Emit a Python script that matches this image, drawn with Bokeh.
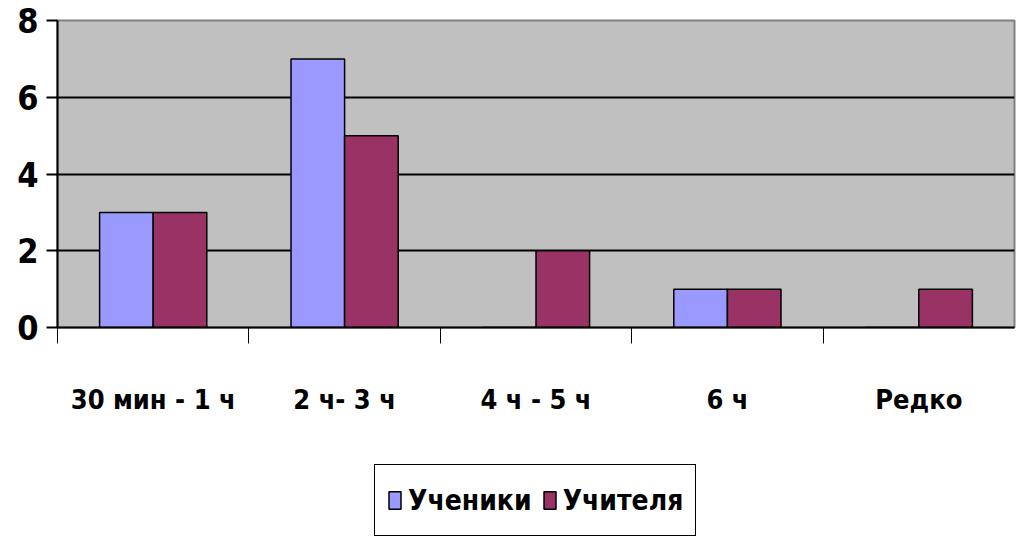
from bokeh.plotting import figure
from bokeh.layouts import column
from bokeh.models import Range1d, FixedTicker, ColumnDataSource, Legend, LegendItem
from bokeh.transform import dodge
from bokeh.embed import file_html
from bokeh.resources import INLINE

categories = ["30 мин - 1 ч", "2 ч- 3 ч", "4 ч - 5 ч", "6 ч", "Редко"]
students = [3, 7, 0, 1, 0]
teachers = [3, 5, 2, 1, 1]
series_names = ["Ученики", "Учителя"]
y_ticks = [0, 2, 4, 6, 8]

FONT = "'Liberation Sans Narrow', 'Arial Narrow', 'DejaVu Sans Condensed', sans-serif"
C_STU = "#9999FF"
C_TEA = "#993366"

xpos = [i + 0.5 for i in range(len(categories))]
src = ColumnDataSource(dict(x=xpos, stu=students, tea=teachers))

p = figure(width=1019, height=455, output_backend="svg", toolbar_location=None,
           x_range=Range1d(0, len(categories)), y_range=Range1d(0, 8),
           min_border_left=57, min_border_right=5, min_border_top=20, min_border_bottom=128)
p.background_fill_color = "#C0C0C0"
p.border_fill_color = "white"
p.outline_line_color = "#808080"
p.outline_line_width = 2

bar_kw = dict(width=0.28, line_color="black", line_width=1.5)
p.vbar(x=dodge("x", -0.14, range=p.x_range), top="stu", source=src, fill_color=C_STU, **bar_kw)
p.vbar(x=dodge("x", 0.14, range=p.x_range), top="tea", source=src, fill_color=C_TEA, **bar_kw)

# y axis
p.yaxis.ticker = FixedTicker(ticks=y_ticks)
p.yaxis.major_label_text_font = FONT
p.yaxis.major_label_text_font_style = "bold"
p.yaxis.major_label_text_font_size = "34px"
p.yaxis.major_label_text_color = "black"
p.yaxis.major_tick_out = 11
p.yaxis.major_tick_in = 0
p.yaxis.major_tick_line_width = 2
p.yaxis.minor_tick_line_color = None
p.yaxis.axis_line_width = 2
p.yaxis.major_label_standoff = 8

# x axis: labels at centers, boundary ticks as minor ticks
p.xaxis.ticker = FixedTicker(ticks=xpos, minor_ticks=list(range(len(categories))))
p.xaxis.major_label_overrides = {x: c for x, c in zip(xpos, categories)}
p.xaxis.major_tick_line_color = None
p.xaxis.minor_tick_out = 16
p.xaxis.minor_tick_in = 0
p.xaxis.minor_tick_line_width = 1
p.xaxis.minor_tick_line_color = "black"
p.xaxis.axis_line_width = 2
p.xaxis.major_label_text_font = FONT
p.xaxis.major_label_text_font_style = "bold"
p.xaxis.major_label_text_font_size = "27px"
p.xaxis.major_label_text_color = "black"
p.xaxis.major_label_standoff = 40

# grid
p.xgrid.grid_line_color = None
p.ygrid.ticker = FixedTicker(ticks=[2, 4, 6])
p.ygrid.grid_line_color = "black"
p.ygrid.grid_line_width = 2

# legend strip below the chart
pl = figure(width=1019, height=84, output_backend="svg", toolbar_location=None,
            x_range=Range1d(0, 1), y_range=Range1d(0, 1),
            min_border_left=0, min_border_right=0, min_border_top=0, min_border_bottom=0)
pl.axis.visible = False
pl.grid.grid_line_color = None
pl.outline_line_color = None
pl.background_fill_color = "white"
pl.border_fill_color = "white"
# tiny proxy bars hidden underneath the legend box, used only for the legend swatches
proxy = ColumnDataSource(dict(x=[0.5], top=[0.5], bottom=[0.4]))
proxy_kw = dict(width=0.01, line_color="black", line_width=1.5)
l1 = pl.vbar(x="x", top="top", bottom="bottom", source=proxy, fill_color=C_STU, **proxy_kw)
l2 = pl.vbar(x="x", top="top", bottom="bottom", source=proxy, fill_color=C_TEA, **proxy_kw)
legend = Legend(items=[LegendItem(label=series_names[0], renderers=[l1], index=0),
                       LegendItem(label=series_names[1], renderers=[l2], index=0)],
                orientation="horizontal", location=(317, 3),
                border_line_color="black", border_line_width=1.5, border_line_alpha=1,
                background_fill_color="white", background_fill_alpha=1,
                label_text_font=FONT, label_text_font_style="bold",
                label_text_color="black",
                label_text_font_size="28px", glyph_width=15, glyph_height=22,
                label_height=46, label_standoff=6, spacing=10, padding=12, margin=0)
pl.add_layout(legend, "center")

layout = column(p, pl, spacing=0)
open("out.html", "w").write(file_html(layout, INLINE))
